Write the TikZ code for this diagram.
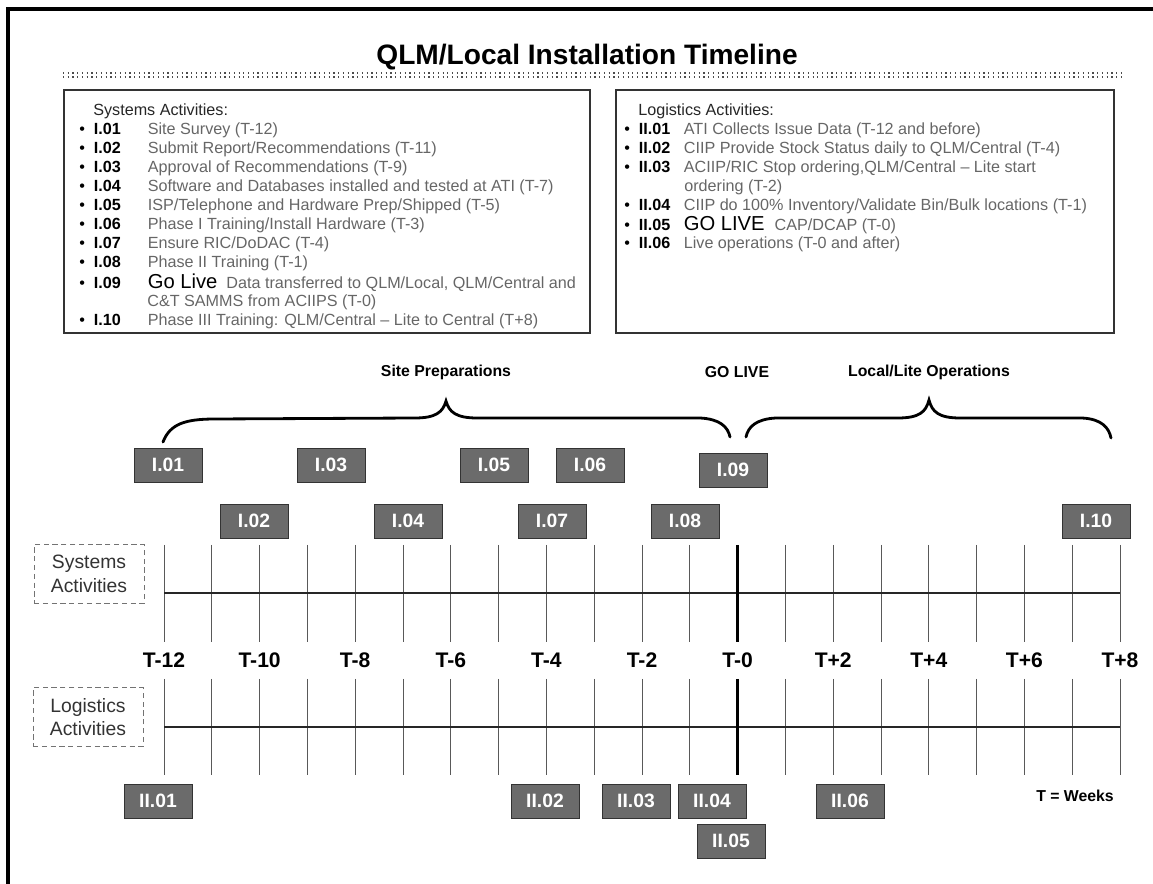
\documentclass[tikz,border=0pt]{standalone}
\usepackage{fontspec}
\setmainfont{Liberation Sans}
\usetikzlibrary{positioning}

\tikzset{
  evtbox/.style={fill=black!58, draw=black!80, text=white,
    font=\fontsize{11}{11}\selectfont\bfseries,
    minimum width=1.36cm, minimum height=0.68cm, inner sep=0pt},
  actline/.style={anchor=west, inner sep=0pt, text=black!60,
    font=\fontsize{9.2}{9.2}\selectfont},
  tlabel/.style={font=\fontsize{12}{12}\selectfont\bfseries},
  phase/.style={font=\fontsize{9}{9}\selectfont\bfseries},
  lanebox/.style={draw=black!55, densely dashed, align=center, text=black!80,
    font=\fontsize{11}{13.5}\selectfont, minimum width=2.2cm, minimum height=1.17cm},
  tick/.style={draw=black!65, line width=0.5pt},
  axis/.style={draw=black!85, line width=1.1pt},
  brace/.style={draw=black, line width=1.6pt, line cap=round}
}

% one row of an activity list: name, x, y, code, text, code column
\newcommand{\actrow}[6]{%
  \node[actline] (#1) at (#2,#3)
    {\makebox[0.29cm][l]{\textcolor{black}{\textbullet}}%
     \makebox[#6][l]{\textcolor{black}{\bfseries #4}}#5};}

\begin{document}
\begin{tikzpicture}[x=0.02cm, y=-0.02cm]
    \useasboundingbox (0,0) rectangle (1153,884);
    % frame
    \draw[line width=2.3pt] (8,884) -- (8,9) -- (1153,9);

    % title
    \node[font=\fontsize{16}{16}\selectfont\bfseries] (title) at (587,57)
         {QLM/Local Installation Timeline};
    \draw[dotted, line width=0.7pt, black!70] (63,73) -- (1124,73);
    \draw[dotted, line width=0.7pt, black!70] (63,77) -- (1124,77);

    % systems list
    \draw[black!80, line width=0.6pt] (64,90) rectangle (590,333);
    \node[actline, text=black!85] (syshead) at (93,111) {Systems Activities:};
    \actrow{s01}{79}{130}{I.01}{Site Survey (T-12)}{1.08cm}
    \actrow{s02}{79}{149}{I.02}{Submit Report/Recommendations (T-11)}{1.08cm}
    \actrow{s03}{79}{168}{I.03}{Approval of Recommendations (T-9)}{1.08cm}
    \actrow{s04}{79}{187}{I.04}{Software and Databases installed and tested at ATI (T-7)}{1.08cm}
    \actrow{s05}{79}{206}{I.05}{ISP/Telephone and Hardware Prep/Shipped (T-5)}{1.08cm}
    \actrow{s06}{79}{225}{I.06}{Phase I Training/Install Hardware (T-3)}{1.08cm}
    \actrow{s07}{79}{244}{I.07}{Ensure RIC/DoDAC (T-4)}{1.08cm}
    \actrow{s08}{79}{263}{I.08}{Phase II Training (T-1)}{1.08cm}
    \actrow{s09}{79}{283}{I.09}{{\color{black}\fontsize{11.5}{11.5}\selectfont Go Live}\hspace{0.18cm}Data transferred to QLM/Local, QLM/Central and}{1.08cm}
    \node[actline] (s09b) at (147,302) {C\&T SAMMS from ACIIPS (T-0)};
    \actrow{s10}{79}{321}{I.10}{Phase III Training: QLM/Central -- Lite to Central (T+8)}{1.08cm}

    % logistics list
    \draw[black!80, line width=0.6pt] (616,90) rectangle (1114,333);
    \node[actline, text=black!85] (loghead) at (638,111) {Logistics Activities:};
    \actrow{l01}{624}{130}{II.01}{ATI Collects Issue Data (T-12 and before)}{0.9cm}
    \actrow{l02}{624}{149}{II.02}{CIIP Provide Stock Status daily to QLM/Central (T-4)}{0.9cm}
    \actrow{l03}{624}{168}{II.03}{ACIIP/RIC Stop ordering,QLM/Central -- Lite start}{0.9cm}
    \node[actline] (l03b) at (684,187) {ordering (T-2)};
    \actrow{l04}{624}{206}{II.04}{CIIP do 100\% Inventory/Validate Bin/Bulk locations (T-1)}{0.9cm}
    \actrow{l05}{624}{225}{II.05}{{\color{black}\fontsize{11.5}{11.5}\selectfont GO LIVE}\hspace{0.2cm}CAP/DCAP (T-0)}{0.9cm}
    \actrow{l06}{624}{244}{II.06}{Live operations (T-0 and after)}{0.9cm}

    % phases
    \node[phase] (prep) at (446,372) {Site Preparations};
    \node[phase] (golive) at (737,372) {GO LIVE};
    \node[phase] (localops) at (929,372) {Local/Lite Operations};
    \draw[brace] (163,442) .. controls (170,424) and (185,419) .. (215,419)
        -- (415,418) .. controls (436,418) and (443,412) .. (446,401)
        .. controls (449,412) and (456,418) .. (477,418)
        -- (700,418) .. controls (720,419) and (728,427) .. (730,437);
    \draw[brace] (746,437) .. controls (748,427) and (756,419) .. (776,418)
        -- (898,418) .. controls (919,418) and (926,412) .. (929,400)
        .. controls (932,412) and (939,418) .. (960,418)
        -- (1082,418) .. controls (1102,419) and (1109,428) .. (1111,438);

    % systems lane
    \node[lanebox] (syslane) at (89,574) {Systems\\Activities};
    \foreach \i in {0,...,20}
        \draw[tick] ({164+47.8*\i},545) -- ({164+47.8*\i},642);
    \draw[axis] (164,593) -- (1120,593);
    \draw[line width=1.6pt] (737.6,545) -- (737.6,642);

    % week labels
    \foreach \w [count=\k from 0] in {T-12,T-10,T-8,T-6,T-4,T-2,T-0,T+2,T+4,T+6,T+8}
        \node[tlabel] (wk\k) at ({164+95.6*\k},660) {\w};

    % logistics lane
    \node[lanebox] (loglane) at (88,717) {Logistics\\Activities};
    \foreach \i in {0,...,20}
        \draw[tick] ({164+47.8*\i},679) -- ({164+47.8*\i},775);
    \draw[axis] (164,727) -- (1120,727);
    \draw[line width=1.6pt] (737.6,679) -- (737.6,775);

    % systems events
    \node[evtbox] (e01) at (168,465) {I.01};
    \node[evtbox] (e03) at (331,465) {I.03};
    \node[evtbox] (e05) at (494,465) {I.05};
    \node[evtbox] (e06) at (590,465) {I.06};
    \node[evtbox] (e09) at (733,470) {I.09};
    \node[evtbox] (e02) at (254,521) {I.02};
    \node[evtbox] (e04) at (408,521) {I.04};
    \node[evtbox] (e07) at (552,521) {I.07};
    \node[evtbox] (e08) at (685,521) {I.08};
    \node[evtbox] (e10) at (1096,521) {I.10};

    % logistics events
    \node[evtbox] (g01) at (158,801) {II.01};
    \node[evtbox] (g02) at (545,801) {II.02};
    \node[evtbox] (g03) at (636,801) {II.03};
    \node[evtbox] (g04) at (712,801) {II.04};
    \node[evtbox] (g05) at (731,841) {II.05};
    \node[evtbox] (g06) at (850,801) {II.06};

    \node[phase] (weeks) at (1075,796) {T = Weeks};
\end{tikzpicture}
\end{document}
